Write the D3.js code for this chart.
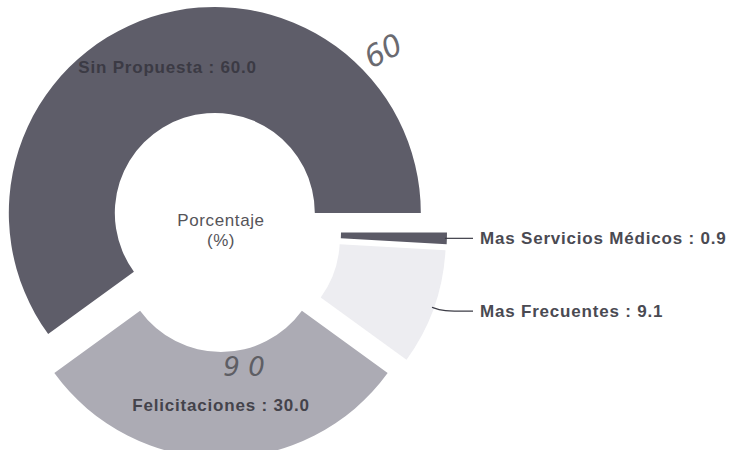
<!DOCTYPE html>
<html>
<head>
<meta charset="utf-8">
<script src="https://cdn.jsdelivr.net/npm/d3@7"></script>
<style>
  html, body { margin: 0; padding: 0; background: #ffffff; }
  svg { display: block; }
</style>
</head>
<body>
<div id="chart"></div>
<script>
// ---- data ----
const categories = ["Sin Propuesta", "Felicitaciones", "Mas Frecuentes", "Mas Servicios Médicos"];
const values = [60.0, 30.0, 9.1, 0.9];
const valueLabels = ["60.0", "30.0", "9.1", "0.9"];
const labelInside = [true, true, false, false];
const centerTitle = ["Porcentaje", "(%)"];
const handNotes = ["60", "9 0"];

// ---- styles ----
const sliceColors = ["#5e5d69", "#acabb4", "#ededf1", "#5b5a66"];
const width = 741, height = 450;
const cx = 221, cy = 232;
const outerR = 206, innerR = 100, explode = 20;

const svg = d3.select("#chart").append("svg")
  .attr("width", width).attr("height", height)
  .attr("viewBox", `0 0 ${width} ${height}`);

const data = categories.map((c, i) => ({ name: c, value: values[i], label: valueLabels[i], inside: labelInside[i], color: sliceColors[i] }));

const pie = d3.pie()
  .value(d => d.value)
  .sort(null)
  .startAngle(Math.PI / 2)
  .endAngle(Math.PI / 2 - 2 * Math.PI);

const arc = d3.arc().innerRadius(innerR).outerRadius(outerR);
const arcs = pie(data);

function offsetOf(a) {
  const m = (a.startAngle + a.endAngle) / 2;
  return [Math.sin(m) * explode, -Math.cos(m) * explode];
}

const g = svg.append("g").attr("transform", `translate(${cx},${cy})`);

const slices = g.selectAll("g.slice").data(arcs).join("g")
  .attr("class", "slice")
  .attr("transform", d => { const o = offsetOf(d); return `translate(${o[0]},${o[1]})`; });

slices.append("path")
  .attr("d", arc)
  .attr("fill", d => d.data.color)
  .attr("stroke", "none");

const font = "'Liberation Sans', Arial, Helvetica, sans-serif";

// inside labels
slices.filter(d => d.data.inside).append("text")
  .attr("x", d => arc.centroid(d)[0])
  .attr("y", d => arc.centroid(d)[1])
  .attr("dy", "0.35em")
  .attr("text-anchor", "middle")
  .attr("font-family", font)
  .attr("font-size", 17)
  .attr("font-weight", "bold")
  .attr("letter-spacing", 0.8)
  .attr("fill", (d, i) => i === 0 ? "#3b3a44" : "#44434b")
  .text(d => `${d.data.name} : ${d.data.label}`);

// outside labels with leader lines
const labelX = 252;
const outside = arcs.filter(d => !d.data.inside);
outside.forEach(d => {
  const o = offsetOf(d);
  const m = (d.startAngle + d.endAngle) / 2;
  const px = o[0] + Math.sin(m) * (outerR - 2);
  const py = o[1] - Math.cos(m) * (outerR - 2);
  const ly = py + (d.data.value < 5 ? 0 : 4);
  g.append("path")
    .attr("d", d3.line().curve(d3.curveBasis)([[px, py], [px + 10, ly], [labelX, ly]]))
    .attr("fill", "none")
    .attr("stroke", "#3c3c46")
    .attr("stroke-width", 1.2);
  g.append("text")
    .attr("x", labelX + 7)
    .attr("y", ly)
    .attr("dy", "0.35em")
    .attr("font-family", font)
    .attr("font-size", 17)
    .attr("font-weight", "bold")
    .attr("letter-spacing", 0.8)
    .attr("fill", "#4a4a52")
    .text(`${d.data.name} : ${d.data.label}`);
});

// center title
g.append("text")
  .attr("text-anchor", "middle")
  .attr("font-family", font)
  .attr("font-size", 17)
  .attr("letter-spacing", 0.6)
  .attr("fill", "#555459")
  .selectAll("tspan").data(centerTitle).join("tspan")
  .attr("x", 0)
  .attr("y", (d, i) => -6 + i * 20)
  .text(d => d);

// handwritten notes
svg.append("text")
  .attr("transform", "translate(388,60) rotate(-28)")
  .attr("text-anchor", "middle")
  .attr("font-family", "'DejaVu Sans', sans-serif")
  .attr("font-style", "italic")
  .attr("font-size", 30)
  .attr("fill", "#6a6a70")
  .text(handNotes[0]);
svg.append("text")
  .attr("transform", "translate(244,376)")
  .attr("text-anchor", "middle")
  .attr("font-family", "'DejaVu Sans', sans-serif")
  .attr("font-style", "italic")
  .attr("font-size", 26)
  .attr("fill", "#5e5e64")
  .text(handNotes[1]);
</script>
</body>
</html>
